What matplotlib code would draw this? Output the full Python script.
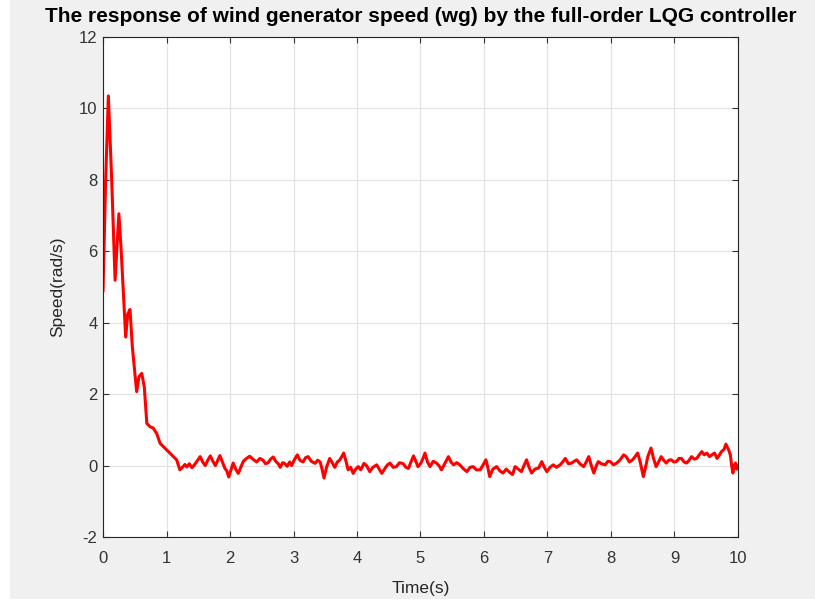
import matplotlib
matplotlib.use('Agg')
import matplotlib.pyplot as plt
from matplotlib.patches import Rectangle

plt.rcParams['font.family'] = ['Liberation Sans', 'DejaVu Sans']
plt.rcParams['axes.unicode_minus'] = False

# transient part
t_rise = [0.0, 0.04, 0.084, 0.137, 0.19, 0.25, 0.283, 0.357, 0.39, 0.425, 0.462,
          0.53, 0.567, 0.61, 0.65, 0.69, 0.74, 0.79, 0.845, 0.9, 0.95, 1.0, 1.08,
          1.16]
speed_rise = [4.9, 7.9, 10.35, 7.98, 5.19, 7.05, 6.12, 3.6, 4.25, 4.37, 3.32,
              2.07, 2.49, 2.58, 2.2, 1.18, 1.09, 1.05, 0.9, 0.62, 0.53, 0.44, 0.3,
              0.16]

# noisy steady part
t_ss = [1.21, 1.25, 1.29, 1.32, 1.36, 1.40, 1.44, 1.48, 1.53, 1.57,
        1.61, 1.65, 1.69, 1.73, 1.77, 1.80, 1.84, 1.88, 1.92, 1.95,
        1.98, 2.02, 2.05, 2.09, 2.13, 2.17, 2.21, 2.26, 2.31, 2.36,
        2.42, 2.47, 2.52, 2.56, 2.60, 2.64, 2.68, 2.72, 2.76, 2.79,
        2.83, 2.86, 2.90, 2.94, 2.97, 3.01, 3.06, 3.10, 3.15, 3.19,
        3.23, 3.28, 3.34, 3.38, 3.42, 3.45, 3.48, 3.52, 3.57, 3.61,
        3.65, 3.69, 3.73, 3.76, 3.79, 3.83, 3.86, 3.90, 3.94, 3.98,
        4.02, 4.06, 4.11, 4.15, 4.20, 4.25, 4.31, 4.35, 4.39, 4.44,
        4.48, 4.52, 4.57, 4.62, 4.67, 4.73, 4.77, 4.81, 4.85, 4.89,
        4.92, 4.96, 5.00, 5.04, 5.07, 5.11, 5.15, 5.20, 5.25, 5.29,
        5.33, 5.38, 5.41, 5.44, 5.48, 5.52, 5.57, 5.62, 5.67, 5.73,
        5.78, 5.83, 5.88, 5.94, 5.98, 6.03, 6.06, 6.09, 6.14, 6.20,
        6.25, 6.30, 6.35, 6.41, 6.45, 6.49, 6.54, 6.59, 6.63, 6.67,
        6.71, 6.75, 6.80, 6.86, 6.91, 6.95, 6.99, 7.04, 7.09, 7.14,
        7.20, 7.24, 7.28, 7.33, 7.38, 7.42, 7.46, 7.51, 7.57, 7.61,
        7.65, 7.69, 7.73, 7.77, 7.80, 7.85, 7.91, 7.95, 7.99, 8.04,
        8.09, 8.14, 8.20, 8.24, 8.29, 8.34, 8.38, 8.42, 8.46, 8.51,
        8.55, 8.58, 8.63, 8.67, 8.71, 8.75, 8.79, 8.83, 8.87, 8.91,
        8.95, 8.99, 9.03, 9.07, 9.11, 9.15, 9.19, 9.23, 9.27, 9.31,
        9.35, 9.39, 9.43, 9.47, 9.51, 9.55, 9.59, 9.63, 9.67, 9.71,
        9.74, 9.78, 9.81, 9.85, 9.88, 9.90, 9.92, 9.94, 9.96, 9.98,
        10.0]
speed_ss = [-0.12, -0.05, 0.03, -0.04, 0.05, -0.06, 0.02, 0.12, 0.25, 0.10,
            0.00, 0.15, 0.27, 0.12, 0.00, 0.12, 0.28, 0.10, -0.08, -0.15,
            -0.32, -0.10, 0.07, -0.10, -0.22, -0.05, 0.12, 0.20, 0.26, 0.18,
            0.10, 0.20, 0.15, 0.05, 0.08, 0.18, 0.24, 0.12, 0.05, -0.05,
            0.08, 0.06, -0.02, 0.10, 0.00, 0.15, 0.30, 0.15, 0.10, 0.22,
            0.25, 0.12, 0.06, 0.15, 0.10, -0.10, -0.35, -0.05, 0.20, 0.08,
            -0.05, 0.10, 0.16, 0.25, 0.35, 0.10, -0.12, -0.05, -0.22, -0.10,
            -0.03, -0.12, 0.06, 0.00, -0.17, -0.05, 0.02, -0.10, -0.22, -0.08,
            0.02, 0.07, -0.05, -0.03, 0.08, 0.05, -0.05, -0.08, 0.10, 0.27,
            0.15, -0.03, 0.05, 0.20, 0.35, 0.10, -0.03, 0.12, 0.07, 0.00,
            -0.12, 0.05, 0.15, 0.25, 0.10, 0.02, 0.08, 0.02, -0.08, -0.17,
            -0.05, -0.03, -0.12, -0.12, 0.00, 0.16, -0.05, -0.31, -0.10, -0.03,
            -0.15, -0.21, -0.10, -0.20, -0.25, -0.03, -0.10, -0.17, 0.00, 0.16,
            -0.05, -0.21, -0.10, -0.07, 0.11, -0.05, -0.17, -0.05, 0.02, -0.05,
            0.02, 0.10, 0.20, 0.05, 0.07, 0.12, 0.16, 0.05, -0.03, 0.10,
            0.25, 0.00, -0.21, 0.00, 0.11, 0.05, 0.02, 0.12, 0.11, 0.02,
            0.07, 0.15, 0.30, 0.25, 0.10, 0.16, 0.25, 0.35, 0.10, -0.31,
            0.00, 0.25, 0.49, 0.20, -0.03, 0.10, 0.25, 0.15, 0.07, 0.15,
            0.16, 0.10, 0.11, 0.20, 0.20, 0.10, 0.07, 0.15, 0.25, 0.18,
            0.20, 0.30, 0.39, 0.30, 0.35, 0.25, 0.30, 0.35, 0.20, 0.30,
            0.39, 0.45, 0.60, 0.45, 0.30, 0.00, -0.21, 0.00, 0.07, -0.10,
            0.00]

t = t_rise + t_ss
speed = speed_rise + speed_ss

fig = plt.figure(figsize=(8.15, 6.03), dpi=100, facecolor='#f0f0f0')
# white strips at the edges of the screenshot
fig.patches.append(Rectangle((0, 0), 10 / 815, 1, transform=fig.transFigure,
                             facecolor='white', edgecolor='none'))
fig.patches.append(Rectangle((0, 0), 1, 4 / 603, transform=fig.transFigure,
                             facecolor='white', edgecolor='none'))
ax = fig.add_axes([0.1264, 0.1095, 0.7791, 0.8291])

ax.plot(t, speed, color='red', linewidth=2.2)

ax.set_xlim(0, 10)
ax.set_ylim(-2, 12)
ax.set_xticks(range(0, 11))
ax.set_yticks(range(-2, 13, 2))
ax.grid(True, color='#e3e3e3', linewidth=0.9)
ax.set_axisbelow(True)
ax.tick_params(direction='in', top=True, right=True, labelsize=12,
               colors='#333333', length=4, width=0.8, pad=4)
ax.tick_params(axis='x', pad=10)
for s in ax.spines.values():
    s.set_color('#262626')
    s.set_linewidth(0.8)

ax.set_xlabel('Time(s)', fontsize=12.5, color='#262626', labelpad=11)
ax.set_ylabel('Speed(rad/s)', fontsize=12.5, color='#262626', labelpad=10)
ax.set_title('The response of wind generator speed (wg) by the full-order LQG controller',
             fontsize=15, fontweight='bold', pad=11)

fig.savefig('out.png', dpi=100, facecolor=fig.get_facecolor())
